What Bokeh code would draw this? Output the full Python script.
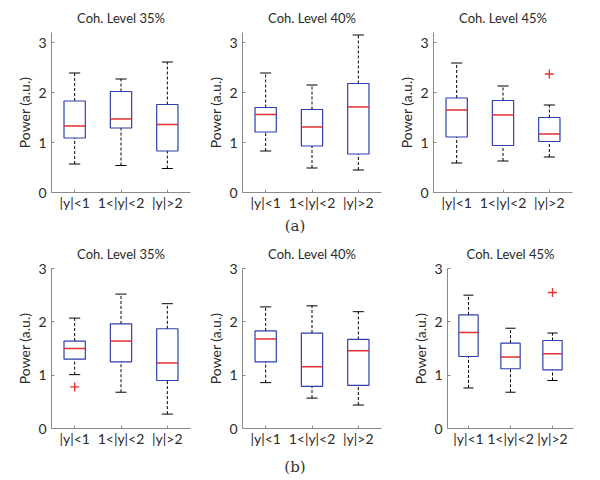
from bokeh.plotting import figure
from bokeh.models import Range1d, FixedTicker, Div
from bokeh.layouts import row, column
from bokeh.embed import file_html
from bokeh.resources import INLINE

categories = ["|y|<1", "1<|y|<2", "|y|>2"]
positions = [1, 2, 3]
titles = ["Coh. Level 35%", "Coh. Level 40%", "Coh. Level 45%"]
y_ticks = [0, 1, 2, 3]

# Row (a): one list per panel (35%, 40%, 45%), one value per category
a_low = [[0.57, 0.54, 0.48], [0.83, 0.49, 0.45], [0.59, 0.63, 0.71]]
a_q1 = [[1.09, 1.29, 0.83], [1.21, 0.93, 0.77], [1.11, 0.94, 1.02]]
a_med = [[1.33, 1.47, 1.36], [1.56, 1.31, 1.71], [1.65, 1.55, 1.17]]
a_q3 = [[1.83, 2.02, 1.76], [1.70, 1.66, 2.18], [1.89, 1.84, 1.50]]
a_high = [[2.39, 2.27, 2.61], [2.39, 2.15, 3.15], [2.59, 2.13, 1.75]]
a_out_x = [[], [], [3]]
a_out_y = [[], [], [2.37]]

# Row (b)
b_low = [[1.01, 0.68, 0.27], [0.86, 0.57, 0.44], [0.76, 0.68, 0.90]]
b_q1 = [[1.30, 1.25, 0.90], [1.25, 0.79, 0.81], [1.35, 1.12, 1.10]]
b_med = [[1.50, 1.64, 1.23], [1.68, 1.16, 1.46], [1.80, 1.34, 1.40]]
b_q3 = [[1.64, 1.96, 1.87], [1.83, 1.79, 1.67], [2.13, 1.60, 1.65]]
b_high = [[2.07, 2.52, 2.34], [2.28, 2.30, 2.19], [2.50, 1.88, 1.79]]
b_out_x = [[1], [], [3]]
b_out_y = [[0.78], [], [2.55]]

FONT = "Lato"
BOX_W = 0.46
CAP_W = 0.24
BLUE = "#2d3fa8"
RED = "#e0312f"
TXT = "#2a2a2a"


def panel(title, ymax, low, q1, med, q3, high, ox, oy, fw, fh,
          bl, br, bt, bb):
    p = figure(frame_width=fw, frame_height=fh, output_backend="svg",
               toolbar_location=None, x_range=Range1d(0.5, 3.5),
               y_range=Range1d(0, ymax),
               min_border_left=bl, min_border_right=br,
               min_border_top=bt, min_border_bottom=bb)
    p.title.text = title
    p.title.align = "center"
    p.title.text_font = FONT
    p.title.text_font_size = "13px"
    p.title.text_font_style = "normal"
    p.title.text_color = TXT
    p.title.standoff = 14
    p.outline_line_color = None
    p.xgrid.visible = False
    p.ygrid.visible = False
    for ax in (p.xaxis[0], p.yaxis[0]):
        ax.axis_line_color = "#8a8a8a"
        ax.major_tick_line_color = "#8a8a8a"
        ax.major_tick_in = 3
        ax.major_tick_out = 0
        ax.minor_tick_line_color = None
        ax.major_label_text_font = FONT
        ax.major_label_text_font_size = "14px"
        ax.major_label_text_color = TXT
    p.xaxis.major_label_standoff = 1
    p.yaxis.major_label_standoff = 5
    p.xaxis.ticker = FixedTicker(ticks=positions)
    p.xaxis.major_label_overrides = {pos: c for pos, c in zip(positions, categories)}
    p.yaxis.ticker = FixedTicker(ticks=y_ticks)
    p.yaxis.axis_label = "Power (a.u.)"
    p.yaxis.axis_label_text_font = FONT
    p.yaxis.axis_label_text_font_size = "14px"
    p.yaxis.axis_label_text_font_style = "normal"
    p.yaxis.axis_label_text_color = TXT
    p.yaxis.axis_label_standoff = 2

    # whiskers
    p.segment(x0=positions, y0=q3, x1=positions, y1=high, line_color="black",
              line_dash="3 2", line_width=1)
    p.segment(x0=positions, y0=low, x1=positions, y1=q1, line_color="black",
              line_dash="3 2", line_width=1)
    # caps
    p.segment(x0=[x - CAP_W / 2 for x in positions], y0=high,
              x1=[x + CAP_W / 2 for x in positions], y1=high,
              line_color="black", line_width=1)
    p.segment(x0=[x - CAP_W / 2 for x in positions], y0=low,
              x1=[x + CAP_W / 2 for x in positions], y1=low,
              line_color="black", line_width=1)
    # boxes
    p.quad(left=[x - BOX_W / 2 for x in positions],
           right=[x + BOX_W / 2 for x in positions],
           bottom=q1, top=q3, fill_color=None, line_color=BLUE, line_width=1.2)
    # medians
    p.segment(x0=[x - BOX_W / 2 for x in positions], y0=med,
              x1=[x + BOX_W / 2 for x in positions], y1=med,
              line_color=RED, line_width=1.5)
    if ox:
        p.scatter(x=ox, y=oy, marker="cross", size=9, line_color=RED,
                  line_width=1.3)
    return p


# (frame_width, border_left, border_right)
geo_a = [(139, 51, 10), (139, 42, 11), (139, 41, 20)]
geo_b = [(139, 51, 10), (139, 42, 11), (126, 55, 19)]

row_a = []
for i in range(3):
    fw, bl, br = geo_a[i]
    row_a.append(panel(titles[i], 3.2, a_low[i], a_q1[i], a_med[i], a_q3[i],
                       a_high[i], a_out_x[i], a_out_y[i], fw, 160, bl, br, 32, 24))
row_b = []
for i in range(3):
    fw, bl, br = geo_b[i]
    row_b.append(panel(titles[i], 3.0, b_low[i], b_q1[i], b_med[i], b_q3[i],
                       b_high[i], b_out_x[i], b_out_y[i], fw, 160, bl, br, 30, 26))

cap_style = {"text-align": "center", "font-family": "'DejaVu Serif', serif",
             "font-size": "15px", "color": "#333333"}
cap_a = Div(text="(a)", width=590, height=20, margin=(0, 0, 0, 0),
            styles=cap_style)
cap_b = Div(text="(b)", width=590, height=24, margin=(0, 0, 0, 0),
            styles=dict(cap_style, **{"padding-top": "3px"}))

layout = column(row(*row_a, spacing=0), cap_a, row(*row_b, spacing=0), cap_b,
                spacing=0)

open("out.html", "w").write(file_html(layout, INLINE))
